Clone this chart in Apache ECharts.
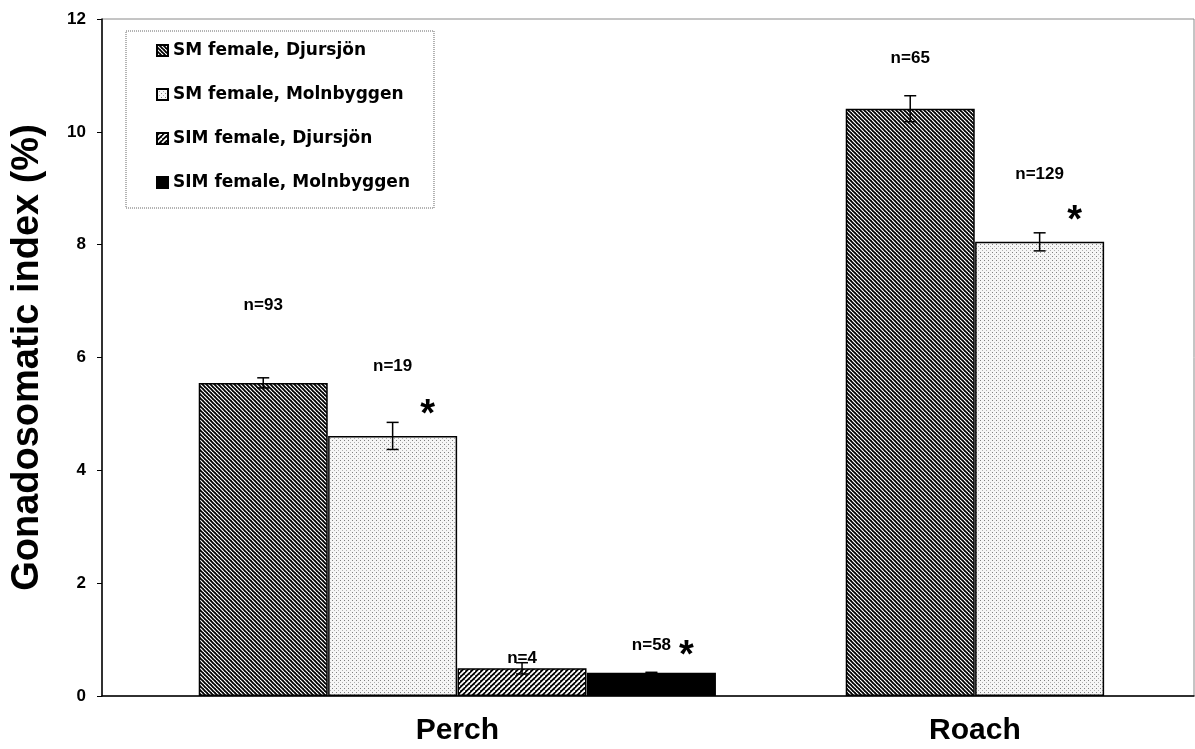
<!DOCTYPE html>
<html>
<head>
<meta charset="utf-8">
<script src="https://cdn.jsdelivr.net/npm/echarts@6/dist/echarts.min.js"></script>
<style>
html,body{margin:0;padding:0;background:#fff;}
#chart{width:1195px;height:749px;}
</style>
</head>
<body>
<div id="chart"></div>
<script>
// ---------- DATA ----------
const categories = ['Perch', 'Roach'];
const seriesNames = ['SM female, Djursjön', 'SM female, Molnbyggen', 'SIM female, Djursjön', 'SIM female, Molnbyggen'];
const perchMeans = [5.55, 4.61, 0.49, 0.41];
const roachMeans = [10.41, 8.05, null, null];
const perchErr = [0.09, 0.24, 0.10, 0.01];
const roachErr = [0.23, 0.16, null, null];
const perchN = [93, 19, 4, 58];
const roachN = [65, 129, null, null];
const perchSig = [false, true, false, true];
const roachSig = [false, true, false, false];
const yTickLabels = ['0', '2', '4', '6', '8', '10', '12'];

// ---------- LAYOUT (not data) ----------
const groupStartSlot = [0, 5];          // first bar slot of each group
const nLabelY = [[6.93, 5.85, 0.66, 0.90], [11.31, 9.25, null, null]];
const starY = [[null, 5.10, null, 0.82], [null, 8.53, null, null]];
const starDx = 0.27;

const means = [perchMeans, roachMeans];
const errs = [perchErr, roachErr];
const ns = [perchN, roachN];
const sigs = [perchSig, roachSig];

function makePattern(kind) {
  const c = document.createElement('canvas');
  const ctx = c.getContext('2d');
  if (kind === 'back') {
    const s = 4; c.width = s; c.height = s;
    ctx.fillStyle = '#000'; ctx.fillRect(0, 0, s, s);
    ctx.strokeStyle = '#fff'; ctx.lineWidth = 1.2;
    for (let k = -1; k <= 1; k++) { ctx.beginPath(); ctx.moveTo(k * s, 0); ctx.lineTo(k * s + s, s); ctx.stroke(); }
  } else if (kind === 'fwd') {
    const s = 5; c.width = s; c.height = s;
    ctx.fillStyle = '#000'; ctx.fillRect(0, 0, s, s);
    ctx.strokeStyle = '#fff'; ctx.lineWidth = 1.8;
    for (let k = -1; k <= 1; k++) { ctx.beginPath(); ctx.moveTo(k * s, s); ctx.lineTo(k * s + s, 0); ctx.stroke(); }
  } else if (kind === 'dots') {
    const s = 4; c.width = s; c.height = s;
    ctx.fillStyle = '#f6f6f6'; ctx.fillRect(0, 0, s, s);
    ctx.fillStyle = '#808080'; ctx.fillRect(0, 0, 1, 1);
    ctx.fillStyle = '#b0b0b0'; ctx.fillRect(2, 2, 1, 1);
  }
  return { image: c, repeat: 'repeat' };
}
const fills = [makePattern('back'), makePattern('dots'), makePattern('fwd'), '#000'];

const FONT = '"Liberation Sans", Arial, sans-serif';
const LEGEND_FONT = '"DejaVu Sans", "Liberation Sans", sans-serif';
const xMin = -1.246, xMax = 7.193;
const barPx = 129;

const groupCenters = categories.map((c, ci) => {
  const cnt = means[ci].filter(v => v !== null).length;
  return groupStartSlot[ci] + (cnt - 1) / 2;
});

const barSeries = seriesNames.map((name, si) => {
  const data = [];
  categories.forEach((c, ci) => {
    if (means[ci][si] !== null) data.push([groupStartSlot[ci] + si, means[ci][si]]);
  });
  return {
    name, type: 'bar', data, barWidth: barPx, barGap: '-100%',
    itemStyle: { color: fills[si], borderColor: '#000', borderWidth: 1.5 },
    emphasis: { disabled: true }, z: 2
  };
});

const errData = [];
categories.forEach((c, ci) => {
  means[ci].forEach((v, si) => {
    if (v !== null && errs[ci][si] !== null) errData.push([groupStartSlot[ci] + si, v, errs[ci][si]]);
  });
});

const nData = [], starData = [];
categories.forEach((c, ci) => {
  ns[ci].forEach((n, si) => {
    if (n !== null) nData.push({ value: [groupStartSlot[ci] + si, nLabelY[ci][si]], n });
    if (sigs[ci][si]) starData.push([groupStartSlot[ci] + si + starDx, starY[ci][si]]);
  });
});

const chart = echarts.init(document.getElementById('chart'), null, { renderer: 'canvas' });
chart.setOption({
  animation: false,
  textStyle: { fontFamily: FONT },
  grid: { left: 102, right: 1, top: 19, bottom: 53, show: true, borderColor: '#8a8a8a', borderWidth: 1, outerBoundsMode: 'none', containLabel: false },
  legend: {
    data: seriesNames, orient: 'vertical', left: 126, top: 31,
    padding: [11, 24, 17, 30], itemGap: 27, itemWidth: 11, itemHeight: 11,
    icon: 'rect', borderColor: '#666', borderWidth: 1, borderType: 'dotted',
    textStyle: { fontFamily: LEGEND_FONT, fontWeight: 'bold', fontSize: 17, color: '#000' },
    selectedMode: false
  },
  xAxis: {
    type: 'value', min: xMin, max: xMax,
    splitLine: { show: false },
    axisLine: { show: true, onZero: false, lineStyle: { color: '#000', width: 1.5 } },
    axisTick: { show: false },
    axisLabel: {
      customValues: groupCenters,
      formatter: (val) => {
        const i = groupCenters.findIndex(g => Math.abs(g - val) < 1e-6);
        return i >= 0 ? categories[i] : '';
      },
      margin: 20, fontSize: 30, fontWeight: 'bold', color: '#000', fontFamily: FONT
    }
  },
  yAxis: {
    type: 'value', min: 0, max: 12, interval: 2,
    name: 'Gonadosomatic index (%)', nameLocation: 'middle', nameGap: 55,
    nameTextStyle: { fontSize: 38, fontWeight: 'bold', color: '#000', fontFamily: FONT },
    splitLine: { show: false },
    axisLine: { show: true, onZero: false, lineStyle: { color: '#000', width: 1.5 } },
    axisTick: { show: true, length: 5, inside: false, lineStyle: { color: '#000' } },
    axisLabel: {
      formatter: (v) => yTickLabels[Math.round(v / 2)],
      margin: 16, fontSize: 17, fontWeight: 'bold', color: '#000', fontFamily: FONT
    }
  },
  series: [
    ...barSeries,
    {
      type: 'custom', name: 'err', data: errData, z: 5,
      encode: { x: 0, y: 1 },
      renderItem: (params, api) => {
        const x = api.value(0), v = api.value(1), e = api.value(2);
        const t = api.coord([x, v + e]), b = api.coord([x, v - e]);
        const hw = 6;
        const st = { stroke: '#000', lineWidth: 1.5 };
        return {
          type: 'group', children: [
            { type: 'line', shape: { x1: t[0], y1: t[1], x2: b[0], y2: b[1] }, style: st },
            { type: 'line', shape: { x1: t[0] - hw, y1: t[1], x2: t[0] + hw, y2: t[1] }, style: st },
            { type: 'line', shape: { x1: b[0] - hw, y1: b[1], x2: b[0] + hw, y2: b[1] }, style: st }
          ]
        };
      }
    },
    {
      type: 'scatter', name: 'nlab', data: nData, symbolSize: 0, z: 6, silent: true,
      itemStyle: { opacity: 1, color: 'rgba(0,0,0,0)' },
      label: {
        show: true, position: 'inside', formatter: (p) => 'n=' + p.data.n, opacity: 1,
        fontSize: 17, fontWeight: 'bold', color: '#000', fontFamily: FONT
      }
    },
    {
      type: 'scatter', name: 'star', data: starData, symbolSize: 0, z: 6, silent: true,
      itemStyle: { opacity: 1, color: 'rgba(0,0,0,0)' },
      label: {
        show: true, position: 'inside', formatter: '*', opacity: 1,
        fontSize: 38, fontWeight: 'bold', color: '#000', fontFamily: FONT, offset: [0, 7]
      }
    }
  ]
});
</script>
</body>
</html>
